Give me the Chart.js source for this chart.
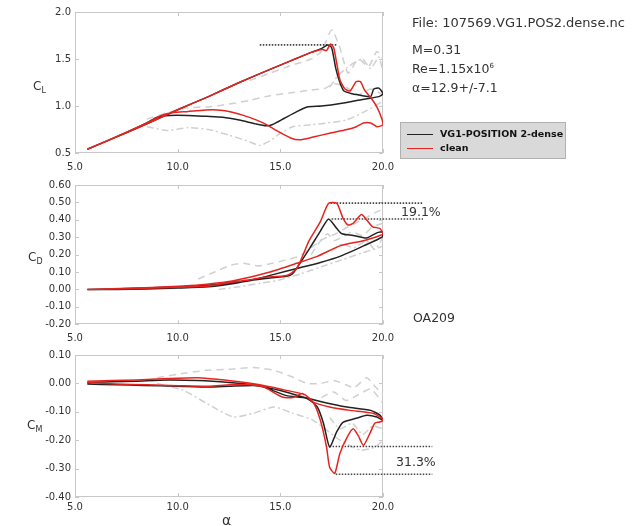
<!DOCTYPE html>
<html>
<head>
<meta charset="utf-8">
<script src="https://cdn.jsdelivr.net/npm/chart.js@4.4.0/dist/chart.umd.min.js"></script>
<style>
body { margin: 0; background: #fff; font-family: "DejaVu Sans", sans-serif; color: #333; }
#wrap { position: relative; width: 642px; height: 526px; overflow: hidden; }
canvas { position: absolute; left: 0; }
.t { position: absolute; white-space: nowrap; line-height: 1; }
.t sub { font-size: 8px; vertical-align: -3px; }
.t sup { font-size: 7px; vertical-align: 5px; }
#legend { position: absolute; left: 400px; top: 122px; width: 164px; height: 35px; background: #d9d9d9; border: 1px solid #b0b0b0; }
#legend .row { position: absolute; left: 6px; white-space: nowrap; font-weight: bold; font-size: 9.5px; line-height: 1; color: #111; }
#legend .sw { display: inline-block; width: 26px; height: 0; vertical-align: middle; margin-right: 7px; }
</style>
</head>
<body>
<div id="wrap">
<canvas id="cl" width="440" height="175" style="top:0px"></canvas>
<canvas id="cd" width="440" height="170" style="top:175px"></canvas>
<canvas id="cm" width="440" height="181" style="top:345px"></canvas>

<div class="t" style="left:412px;top:16px;font-size:13px">File: 107569.VG1.POS2.dense.nc</div>
<div class="t" style="left:412px;top:44px;font-size:12.5px">M=0.31</div>
<div class="t" style="left:412px;top:63px;font-size:12.5px">Re=1.15x10<sup>6</sup></div>
<div class="t" style="left:412px;top:82px;font-size:12.5px">α=12.9+/-7.1</div>
<div id="legend">
  <div class="row" style="top:6px"><span class="sw" style="border-top:1.5px solid #222"></span>VG1-POSITION 2-dense</div>
  <div class="row" style="top:20px"><span class="sw" style="border-top:1.5px solid #e52420"></span>clean</div>
</div>
<div class="t" style="left:33px;top:80px;font-size:12px">C<sub>L</sub></div>
<div class="t" style="left:28px;top:251px;font-size:12px">C<sub>D</sub></div>
<div class="t" style="left:27px;top:419px;font-size:12px">C<sub>M</sub></div>
<div class="t" style="left:401px;top:206px;font-size:12.5px">19.1%</div>
<div class="t" style="left:396px;top:456px;font-size:12.5px">31.3%</div>
<div class="t" style="left:413px;top:312px;font-size:12.5px">OA209</div>
<div class="t" style="left:222px;top:513px;font-size:14px">α</div>
</div>

<script>
// tick values
alphaTicks = [5, 10, 15, 20]
clTicks = [0.5, 1.0, 1.5, 2.0]
cdTicks = [-0.2, -0.1, 0.0, 0.1, 0.2, 0.3, 0.4, 0.5, 0.6]
cmTicks = [-0.4, -0.3, -0.2, -0.1, 0.0, 0.1]

// lift: VG1 position 2 (black) and clean (red), up- then downstroke
blackClAlpha = [5.6, 7.0, 8.5, 10.0, 11.5, 13.0, 14.5, 15.5, 16.5, 17.0, 17.3, 17.5, 17.7, 17.9, 18.1, 18.5, 19.0, 19.4, 19.55, 19.8, 20.0, 19.8, 19.0, 18.0, 17.0, 16.3, 15.8, 15.2, 14.6, 14.3, 13.8, 13.0, 12.2, 11.4, 10.5, 9.6, 9.0, 8.5, 7.0, 5.6]
blackCl = [0.54, 0.67, 0.81, 0.96, 1.10, 1.25, 1.39, 1.48, 1.57, 1.61, 1.65, 1.62, 1.40, 1.25, 1.16, 1.13, 1.11, 1.10, 1.18, 1.19, 1.13, 1.10, 1.07, 1.03, 1.00, 0.99, 0.94, 0.87, 0.80, 0.79, 0.81, 0.85, 0.88, 0.89, 0.90, 0.90, 0.88, 0.82, 0.67, 0.54]
redClAlpha = [5.6, 7.0, 8.5, 10.0, 11.5, 13.0, 14.5, 15.5, 16.5, 16.8, 17.05, 17.25, 17.45, 17.6, 17.75, 17.9, 18.15, 18.4, 18.7, 18.9, 19.1, 19.4, 19.7, 19.95, 20.0, 19.7, 19.4, 19.05, 18.7, 18.25, 17.4, 16.6, 15.95, 15.5, 14.8, 14.35, 13.85, 13.2, 12.55, 11.7, 10.45, 9.8, 9.2, 8.7, 7.0, 5.6]
redCl = [0.54, 0.67, 0.81, 0.96, 1.10, 1.25, 1.39, 1.48, 1.57, 1.59, 1.60, 1.59, 1.66, 1.62, 1.45, 1.28, 1.18, 1.16, 1.26, 1.26, 1.17, 1.09, 0.99, 0.86, 0.80, 0.78, 0.82, 0.82, 0.78, 0.75, 0.71, 0.67, 0.64, 0.66, 0.74, 0.80, 0.85, 0.90, 0.94, 0.96, 0.94, 0.93, 0.90, 0.84, 0.67, 0.54]
grayCl1Alpha = [13.5, 14.5, 15.5, 16.5, 17.0, 17.5, 17.9, 18.3, 18.8, 19.3, 19.7, 20.0]
grayCl1 = [1.27, 1.35, 1.43, 1.50, 1.58, 1.81, 1.62, 1.35, 1.50, 1.42, 1.58, 1.50]
grayCl2Alpha = [8.5, 9.5, 10.5, 11.5, 12.5, 13.5, 14.5, 15.5, 16.5, 17.2, 17.6, 18.2, 18.8, 19.4, 20.0]
grayCl2 = [0.86, 0.93, 0.98, 0.99, 1.02, 1.06, 1.11, 1.14, 1.17, 1.19, 1.24, 1.20, 1.12, 1.18, 1.12]
grayCl3Alpha = [8.5, 9.5, 10.5, 11.5, 12.5, 13.5, 14.0, 14.5, 15.0, 15.6, 16.5, 17.3, 18.2, 19.2, 20.0]
grayCl3 = [0.78, 0.74, 0.77, 0.75, 0.69, 0.62, 0.58, 0.63, 0.71, 0.78, 0.80, 0.82, 0.85, 0.95, 1.05]
grayCl4Alpha = [17.4, 17.8, 18.2, 18.6, 19.0, 19.4, 19.8, 20.0]
grayCl4 = [1.20, 1.32, 1.40, 1.46, 1.50, 1.40, 1.52, 1.35]
refClAlpha = [14.0, 17.8]
refCl = [1.65, 1.65]

// drag
blackCdAlpha = [5.6, 7.0, 8.5, 10.0, 11.5, 12.5, 13.5, 14.5, 15.3, 15.6, 15.9, 16.45, 16.95, 17.35, 17.75, 18.0, 18.55, 19.2, 19.7, 20.0, 19.95, 19.05, 17.9, 16.95, 15.8, 14.65, 13.5, 12.5, 11.0, 9.5, 8.0, 5.6]
blackCd = [0.0, 0.0, 0.003, 0.008, 0.015, 0.03, 0.05, 0.065, 0.075, 0.09, 0.14, 0.24, 0.335, 0.405, 0.35, 0.32, 0.31, 0.295, 0.325, 0.33, 0.30, 0.25, 0.19, 0.155, 0.12, 0.085, 0.05, 0.035, 0.02, 0.012, 0.006, 0.0]
redCdAlpha = [5.6, 7.0, 8.5, 10.0, 11.5, 12.55, 13.5, 14.2, 15.3, 15.8, 16.4, 16.95, 17.35, 17.75, 18.05, 18.3, 18.55, 18.95, 19.2, 19.5, 19.85, 20.0, 19.85, 19.05, 17.9, 16.8, 15.8, 14.5, 13.5, 12.5, 11.0, 9.5, 8.0, 5.6]
redCd = [0.0, 0.003, 0.006, 0.012, 0.02, 0.04, 0.055, 0.07, 0.08, 0.12, 0.28, 0.39, 0.495, 0.495, 0.41, 0.37, 0.38, 0.43, 0.40, 0.36, 0.35, 0.32, 0.31, 0.28, 0.25, 0.19, 0.15, 0.10, 0.07, 0.045, 0.025, 0.015, 0.008, 0.0]
grayCd1Alpha = [11.0, 11.8, 12.6, 13.2, 13.9, 14.6, 15.3, 15.9, 16.5, 17.1, 17.7, 18.3, 19.0, 19.6, 20.0]
grayCd1 = [0.06, 0.10, 0.14, 0.15, 0.135, 0.15, 0.17, 0.19, 0.24, 0.29, 0.32, 0.36, 0.40, 0.44, 0.46]
grayCd2Alpha = [12.0, 13.0, 14.0, 15.0, 16.0, 17.0, 18.0, 19.0, 19.8, 20.0]
grayCd2 = [0.0, 0.015, 0.035, 0.055, 0.09, 0.13, 0.17, 0.21, 0.24, 0.25]
grayCd3Alpha = [16.5, 16.9, 17.3, 17.6, 18.0, 18.5, 19.0, 19.5, 20.0]
grayCd3 = [0.20, 0.27, 0.32, 0.28, 0.30, 0.33, 0.31, 0.36, 0.38]
grayCd4Alpha = [17.5, 18.0, 18.6, 19.2, 19.6, 20.0]
grayCd4 = [0.22, 0.26, 0.24, 0.28, 0.23, 0.30]
refCdAlpha = [17.45, 21.95]
refCdRed = [0.496, 0.496]
refCdAlpha2 = [17.5, 21.95]
refCdBlack = [0.405, 0.405]

// pitching moment
blackCmAlpha = [5.6, 7.0, 8.3, 10.0, 11.5, 12.5, 13.7, 14.2, 15.3, 16.3, 16.8, 17.1, 17.4, 17.75, 18.05, 18.7, 19.2, 19.7, 20.0, 19.85, 19.4, 18.25, 17.1, 16.1, 15.0, 13.85, 12.5, 11.0, 9.5, 8.0, 5.6]
blackCm = [-0.002, -0.005, -0.007, -0.01, -0.013, -0.01, -0.007, -0.013, -0.043, -0.053, -0.083, -0.14, -0.224, -0.17, -0.137, -0.123, -0.112, -0.118, -0.13, -0.112, -0.095, -0.083, -0.066, -0.048, -0.025, -0.007, 0.003, 0.01, 0.012, 0.008, 0.003]
redCmAlpha = [5.6, 7.0, 8.5, 10.0, 11.5, 12.55, 13.5, 14.2, 15.1, 15.6, 16.1, 16.6, 16.95, 17.25, 17.4, 17.65, 17.9, 18.25, 18.55, 18.8, 19.05, 19.4, 19.6, 19.85, 20.0, 19.95, 19.5, 18.4, 17.4, 16.6, 16.2, 15.0, 14.0, 13.0, 12.0, 11.0, 9.5, 8.0, 5.6]
redCm = [0.003, -0.002, -0.005, -0.008, -0.01, -0.005, -0.005, -0.013, -0.048, -0.05, -0.036, -0.066, -0.13, -0.224, -0.295, -0.317, -0.247, -0.19, -0.16, -0.185, -0.218, -0.17, -0.14, -0.136, -0.13, -0.123, -0.105, -0.095, -0.083, -0.066, -0.04, -0.02, -0.005, 0.006, 0.014, 0.02, 0.017, 0.012, 0.008]
grayCm1Alpha = [9.0, 10.0, 11.4, 12.6, 13.7, 14.7, 15.5, 16.3, 17.0, 17.6, 18.2, 18.6, 19.2, 19.6, 20.0]
grayCm1 = [0.02, 0.032, 0.046, 0.05, 0.056, 0.046, 0.025, 0.0, 0.0, 0.01, -0.005, -0.015, 0.02, -0.01, -0.04]
grayCm2Alpha = [9.0, 10.3, 11.4, 12.7, 13.7, 14.7, 15.6, 16.6, 17.9, 18.9, 19.6, 20.0]
grayCm2 = [0.0, -0.025, -0.07, -0.118, -0.105, -0.083, -0.105, -0.13, -0.20, -0.235, -0.225, -0.20]
grayCm3Alpha = [17.0, 17.6, 18.2, 18.8, 19.4, 20.0]
grayCm3 = [-0.05, -0.03, -0.06, -0.04, -0.02, -0.07]
grayCm4Alpha = [17.4, 17.9, 18.5, 19.0, 19.5, 20.0]
grayCm4 = [-0.12, -0.16, -0.14, -0.18, -0.15, -0.16]
refCmAlpha = [17.4, 22.4]
refCmBlack = [-0.222, -0.222]
refCmAlpha2 = [17.7, 22.4]
refCmRed = [-0.32, -0.32]

RED = '#e52420'
BLACK = '#222222'
GRAY = '#d0d0d0'

function series(xs, ys, color, width, dash) {
    return {
        data: xs.map((a, i) => ({x: a, y: ys[i]})),
        showLine: true,
        borderColor: color,
        borderWidth: width,
        borderDash: dash || [],
        pointRadius: 0,
        fill: false,
        tension: 0.2
    }
}

function refline(xs, ys) {
    var d = series(xs, ys, '#444', 1.6, [1.5, 1.5]);
    d.clip = false;
    d.tension = 0;
    return d;
}

// frame round the plot area with short inward ticks
frame = {
    id: 'frame',
    beforeDatasetsDraw(chart) {
        var ctx = chart.ctx, a = chart.chartArea, x = chart.scales.x, y = chart.scales.y;
        ctx.save();
        ctx.strokeStyle = '#c8c8c8';
        ctx.lineWidth = 1;
        ctx.strokeRect(Math.round(a.left) + 0.5, Math.round(a.top) + 0.5, Math.round(a.width) - 1, Math.round(a.height) - 1);
        ctx.beginPath();
        x.ticks.forEach(t => {
            var p = Math.round(x.getPixelForValue(t.value)) + 0.5;
            ctx.moveTo(p, a.bottom); ctx.lineTo(p, a.bottom - 4);
            ctx.moveTo(p, a.top); ctx.lineTo(p, a.top + 4);
        });
        y.ticks.forEach(t => {
            var p = Math.round(y.getPixelForValue(t.value)) + 0.5;
            ctx.moveTo(a.left, p); ctx.lineTo(a.left + 4, p);
            ctx.moveTo(a.right, p); ctx.lineTo(a.right - 4, p);
        });
        ctx.stroke();
        ctx.restore();
    }
}

function panel(id, yTicks, digits, padTop, xHeight, xPad, datasets) {
    var tickFont = {family: 'DejaVu Sans', size: 10};
    return new Chart(document.getElementById(id), {
        type: 'scatter',
        data: {datasets: datasets},
        options: {
            responsive: false,
            animation: false,
            layout: {padding: {top: padTop, right: 57, left: 0, bottom: 0}},
            plugins: {legend: {display: false}, tooltip: {enabled: false}},
            scales: {
                x: {
                    min: alphaTicks[0], max: alphaTicks[alphaTicks.length - 1],
                    grid: {display: false, drawTicks: false},
                    border: {display: false},
                    afterBuildTicks: s => { s.ticks = alphaTicks.map(v => ({value: v})); },
                    afterFit: s => { s.height = xHeight; },
                    ticks: {padding: xPad, color: '#333', font: tickFont, maxRotation: 0, autoSkip: false,
                            callback: v => v.toFixed(1)}
                },
                y: {
                    min: yTicks[0], max: yTicks[yTicks.length - 1],
                    grid: {display: false, drawTicks: false},
                    border: {display: false},
                    afterBuildTicks: s => { s.ticks = yTicks.map(v => ({value: v})); },
                    afterFit: s => { s.width = 75; },
                    ticks: {padding: 4, color: '#333', font: tickFont, autoSkip: false,
                            callback: v => (Math.abs(v) < 1e-9 ? 0 : v).toFixed(digits)}
                }
            }
        },
        plugins: [frame]
    });
}

panel('cl', clTicks, 1, 12, 22, 8, [
    series(redClAlpha, redCl, RED, 1.5),
    series(blackClAlpha, blackCl, BLACK, 1.5),
    refline(refClAlpha, refCl),
    series(grayCl1Alpha, grayCl1, GRAY, 1.5, [7, 5]),
    series(grayCl2Alpha, grayCl2, GRAY, 1.5, [7, 5]),
    series(grayCl3Alpha, grayCl3, GRAY, 1.5, [7, 3, 2, 3]),
    series(grayCl4Alpha, grayCl4, GRAY, 1.5, [7, 3, 2, 3])
]);

panel('cd', cdTicks, 2, 8.4, 20.8, 8, [
    series(redCdAlpha, redCd, RED, 1.5),
    series(blackCdAlpha, blackCd, BLACK, 1.5),
    refline(refCdAlpha, refCdRed),
    refline(refCdAlpha2, refCdBlack),
    series(grayCd1Alpha, grayCd1, GRAY, 1.5, [7, 5]),
    series(grayCd2Alpha, grayCd2, GRAY, 1.5, [7, 3, 2, 3]),
    series(grayCd3Alpha, grayCd3, GRAY, 1.5, [7, 5]),
    series(grayCd4Alpha, grayCd4, GRAY, 1.5, [7, 3, 2, 3])
]);

panel('cm', cmTicks, 2, 9.5, 29, 4, [
    series(redCmAlpha, redCm, RED, 1.5),
    series(blackCmAlpha, blackCm, BLACK, 1.5),
    refline(refCmAlpha, refCmBlack),
    refline(refCmAlpha2, refCmRed),
    series(grayCm1Alpha, grayCm1, GRAY, 1.5, [7, 5]),
    series(grayCm2Alpha, grayCm2, GRAY, 1.5, [7, 3, 2, 3]),
    series(grayCm3Alpha, grayCm3, GRAY, 1.5, [7, 5]),
    series(grayCm4Alpha, grayCm4, GRAY, 1.5, [7, 3, 2, 3])
]);
</script>
</body>
</html>
